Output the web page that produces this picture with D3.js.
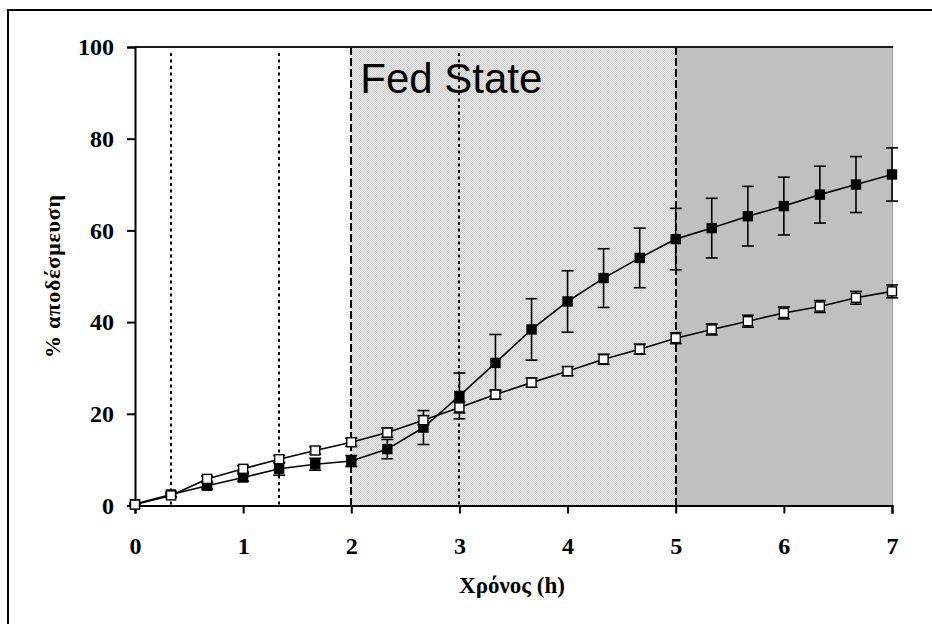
<!DOCTYPE html>
<html>
<head>
<meta charset="utf-8">
<script src="https://cdn.jsdelivr.net/npm/d3@7/dist/d3.min.js"></script>
<style>
  html, body { margin: 0; padding: 0; background: #fff; }
  svg { display: block; }
</style>
</head>
<body>
<svg id="chart" width="932" height="624"></svg>
<script>
// Sampling times (h)
const times = [0, 0.333, 0.667, 1, 1.333, 1.667, 2, 2.333, 2.667, 3, 3.333,
               3.667, 4, 4.333, 4.667, 5, 5.333, 5.667, 6, 6.333, 6.667, 7];
// Filled-square series: mean % released and SD
const filledMean = [0.3, 2.4, 4.3, 6.1, 8.0, 9.0, 9.7, 12.3, 17.0, 23.9, 31.1,
                    38.4, 44.5, 49.6, 54.0, 58.1, 60.5, 63.1, 65.3, 67.8, 70.0, 72.2];
const filledSd = [0.2, 0.6, 0.7, 0.8, 1.4, 1.3, 1.2, 2.1, 3.7, 5.0, 6.2,
                  6.7, 6.7, 6.4, 6.5, 6.7, 6.5, 6.5, 6.3, 6.2, 6.1, 5.8];
// Open-square series: mean % released and SD
const openMean = [0.2, 2.2, 5.8, 8.0, 10.1, 12.0, 13.8, 15.9, 18.6, 21.4, 24.2,
                  26.8, 29.3, 31.9, 34.1, 36.5, 38.4, 40.2, 42.0, 43.4, 45.3, 46.7];
const openSd = [0.2, 0.4, 0.6, 0.7, 0.8, 0.8, 0.9, 1.0, 1.0, 1.2, 1.0,
                1.0, 1.0, 1.1, 1.1, 1.2, 1.2, 1.3, 1.3, 1.3, 1.4, 1.4];

const xTicks = [0, 1, 2, 3, 4, 5, 6, 7];
const yTicks = [0, 20, 40, 60, 80, 100];

// Phases and marker lines
const lightZone = [2, 5];
const darkZone = [5, 7];
const dottedLines = [0.333, 1.333, 3];
const dashedLines = [2, 5];

const zoneLabel = "Fed State";
const xTitle = "Χρόνος (h)";
const yTitle = "% αποδέσμευση";

const svg = d3.select("#chart");
const x = d3.scaleLinear().domain([0, 7]).range([135, 892]);
const y = d3.scaleLinear().domain([0, 100]).range([505.5, 47]);
const serif = "'Liberation Serif', 'Times New Roman', serif";

// Outer frame
svg.append("path")
  .attr("d", "M8,640 L8,10 L940,10")
  .attr("fill", "none").attr("stroke", "#000").attr("stroke-width", 2);

// Dithered fill for the light phase
const defs = svg.append("defs");
const pat = defs.append("pattern").attr("id", "dither")
  .attr("patternUnits", "userSpaceOnUse").attr("width", 2).attr("height", 2);
pat.append("rect").attr("width", 2).attr("height", 2).attr("fill", "#ececec");
pat.append("rect").attr("x", 0).attr("y", 0).attr("width", 1).attr("height", 1).attr("fill", "#cdcdcd");
pat.append("rect").attr("x", 1).attr("y", 1).attr("width", 1).attr("height", 1).attr("fill", "#cdcdcd");

svg.append("rect")
  .attr("x", x(lightZone[0])).attr("y", y(100))
  .attr("width", x(lightZone[1]) - x(lightZone[0]))
  .attr("height", y(0) - y(100))
  .attr("fill", "url(#dither)");
svg.append("rect")
  .attr("x", x(darkZone[0])).attr("y", y(100))
  .attr("width", x(darkZone[1]) - x(darkZone[0]))
  .attr("height", y(0) - y(100))
  .attr("fill", "#c0c0c0");

// Right edge of plot area
svg.append("line")
  .attr("x1", x(7) + 0.5).attr("x2", x(7) + 0.5)
  .attr("y1", y(100)).attr("y2", y(0))
  .attr("stroke", "#9a9a9a").attr("stroke-width", 1);

// Vertical time markers (snapped to whole pixels so the 2px strokes stay crisp)
const px = v => Math.round(x(v));
svg.selectAll(".dotted").data(dottedLines).enter().append("line")
  .attr("x1", px).attr("x2", px)
  .attr("y1", y(100) + 6).attr("y2", y(0))
  .attr("stroke", "#000").attr("stroke-width", 2)
  .attr("stroke-dasharray", "3,3.5");
svg.selectAll(".dashed").data(dashedLines).enter().append("line")
  .attr("x1", px).attr("x2", px)
  .attr("y1", y(100)).attr("y2", y(0))
  .attr("stroke", "#000").attr("stroke-width", 2)
  .attr("stroke-dasharray", "8,3");

// Phase label
svg.append("text")
  .attr("x", x(lightZone[0]) + 9).attr("y", 92.5)
  .attr("font-family", "'Liberation Sans', Arial, sans-serif")
  .attr("font-size", 42)
  .attr("fill", "#000")
  .text(zoneLabel);

// Top border of plot area
svg.append("line")
  .attr("x1", x(0)).attr("x2", x(7) + 1)
  .attr("y1", 47).attr("y2", 47)
  .attr("stroke", "#1a1a1a").attr("stroke-width", 2);

// Axes
const yAxis = d3.axisLeft(y).tickValues(yTicks).tickSize(8).tickPadding(13)
  .tickFormat(d3.format("d"));
const xAxis = d3.axisBottom(x).tickValues(xTicks).tickSize(8).tickPadding(23)
  .tickFormat(d3.format("d"));

const gy = svg.append("g").attr("transform", `translate(${x(0)},0)`).call(yAxis);
const gx = svg.append("g").attr("transform", `translate(0,${y(0)})`).call(xAxis);
[gx, gy].forEach(g => {
  g.select(".domain").attr("stroke", "#000").attr("stroke-width", 2);
  g.selectAll(".tick line").attr("stroke", "#000").attr("stroke-width", 2);
  g.selectAll(".tick text")
    .attr("font-family", serif)
    .attr("font-weight", "bold").attr("font-size", 24).attr("fill", "#000");
});

// Axis titles
svg.append("text")
  .attr("x", 512).attr("y", 593)
  .attr("text-anchor", "middle")
  .attr("font-family", serif)
  .attr("font-weight", "bold").attr("font-size", 23)
  .text(xTitle);
svg.append("text")
  .attr("transform", "translate(60,276) rotate(-90)")
  .attr("text-anchor", "middle")
  .attr("font-family", serif)
  .attr("font-weight", "bold").attr("font-size", 22)
  .attr("letter-spacing", 0.8)
  .text(yTitle);

// Series
const filled = times.map((t, i) => ({ t, m: filledMean[i], sd: filledSd[i] }));
const open = times.map((t, i) => ({ t, m: openMean[i], sd: openSd[i] }));

const line = d3.line().x(d => x(d.t)).y(d => y(d.m));
const capW = 6;
const mk = 9;

function drawSeries(data, fill) {
  const g = svg.append("g");
  g.append("path").datum(data).attr("d", line)
    .attr("fill", "none").attr("stroke", "#000").attr("stroke-width", 1.6);
  const eb = g.selectAll(".eb").data(data).enter().append("g");
  eb.append("line")
    .attr("x1", d => x(d.t)).attr("x2", d => x(d.t))
    .attr("y1", d => y(d.m + d.sd)).attr("y2", d => y(d.m - d.sd))
    .attr("stroke", "#000").attr("stroke-width", 1.6);
  [1, -1].forEach(s => {
    eb.append("line")
      .attr("x1", d => x(d.t) - capW).attr("x2", d => x(d.t) + capW)
      .attr("y1", d => y(d.m + s * d.sd)).attr("y2", d => y(d.m + s * d.sd))
      .attr("stroke", "#000").attr("stroke-width", 1.6);
  });
  g.selectAll(".mk").data(data).enter().append("rect")
    .attr("x", d => x(d.t) - mk / 2).attr("y", d => y(d.m) - mk / 2)
    .attr("width", mk).attr("height", mk)
    .attr("fill", fill).attr("stroke", "#000").attr("stroke-width", 1.4);
}

drawSeries(filled, "#000");
drawSeries(open, "#fff");
</script>
</body>
</html>
